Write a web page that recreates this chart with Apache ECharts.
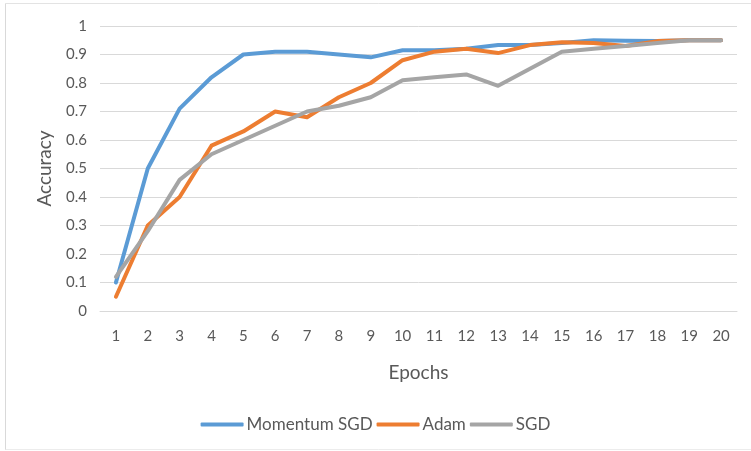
<!DOCTYPE html>
<html>
<head>
<meta charset="utf-8">
<script src="https://cdn.jsdelivr.net/npm/echarts@6/dist/echarts.min.js"></script>
<style>
  html, body { margin: 0; padding: 0; background: #ffffff; }
  #chart { width: 751px; height: 451px; }
</style>
</head>
<body>
<div id="chart"></div>
<script>
// Training accuracy per epoch for three optimisers
const epochs = ['1','2','3','4','5','6','7','8','9','10','11','12','13','14','15','16','17','18','19','20'];
const momentumSgd = [0.10, 0.50, 0.71, 0.82, 0.90, 0.91, 0.91, 0.90, 0.89, 0.915, 0.915, 0.92, 0.933, 0.933, 0.94, 0.95, 0.948, 0.947, 0.95, 0.95];
const adam        = [0.05, 0.30, 0.40, 0.58, 0.63, 0.70, 0.68, 0.75, 0.80, 0.88, 0.91, 0.92, 0.905, 0.933, 0.943, 0.94, 0.93, 0.947, 0.95, 0.95];
const sgd         = [0.12, 0.28, 0.46, 0.55, 0.60, 0.65, 0.70, 0.72, 0.75, 0.81, 0.82, 0.83, 0.79, 0.85, 0.91, 0.92, 0.93, 0.94, 0.95, 0.95];
const yTicks = [0, 0.1, 0.2, 0.3, 0.4, 0.5, 0.6, 0.7, 0.8, 0.9, 1];

const textColor = '#595959';
const font = 'Lato, "Open Sans", sans-serif';

function lineSeries(name, data, color) {
  return {
    name: name,
    type: 'line',
    data: data,
    showSymbol: false,
    symbol: 'none',
    lineStyle: { color: color, width: 4, cap: 'round', join: 'round' },
    itemStyle: { color: color },
    animation: false
  };
}

const chart = echarts.init(document.getElementById('chart'), null, { renderer: 'canvas' });
chart.setOption({
  backgroundColor: '#ffffff',
  animation: false,
  textStyle: { fontFamily: font, color: textColor },
  grid: { left: 100, right: 14, top: 26, bottom: 140, containLabel: false },
  xAxis: {
    type: 'category',
    data: epochs,
    boundaryGap: true,
    name: 'Epochs',
    nameLocation: 'middle',
    nameGap: 52,
    nameTextStyle: { fontSize: 19, color: textColor, fontFamily: font },
    axisLine: { show: true, lineStyle: { color: '#d9d9d9', width: 1 } },
    axisTick: { show: false },
    axisLabel: { color: textColor, fontSize: 15, margin: 18, fontFamily: font, interval: 0 }
  },
  yAxis: {
    type: 'value',
    min: 0,
    max: 1,
    interval: 0.1,
    name: 'Accuracy',
    nameLocation: 'middle',
    nameGap: 46,
    nameRotate: 90,
    nameTextStyle: { fontSize: 19, color: textColor, fontFamily: font },
    axisLine: { show: false },
    axisTick: { show: false },
    splitLine: { show: true, lineStyle: { color: '#d9d9d9', width: 1 } },
    axisLabel: {
      color: textColor, fontSize: 15, margin: 13, fontFamily: font,
      formatter: function (v) {
        const t = yTicks.find(function (k) { return Math.abs(k - v) < 1e-9; });
        return t === undefined ? '' : String(t);
      }
    }
  },
  legend: {
    top: 411,
    left: 'center',
    itemWidth: 43,
    itemHeight: 4,
    itemGap: 4,
    icon: 'roundRect',
    textStyle: { color: textColor, fontSize: 17, fontFamily: font, padding: [0, 0, 0, -2] },
    data: ['Momentum SGD', 'Adam', 'SGD']
  },
  graphic: [
    { type: 'line', shape: { x1: 5.5, y1: 3.5, x2: 751, y2: 3.5 }, style: { stroke: '#e3e3e3', lineWidth: 1 }, silent: true },
    { type: 'line', shape: { x1: 5.5, y1: 3.5, x2: 5.5, y2: 450 }, style: { stroke: '#d9d9d9', lineWidth: 1 }, silent: true },
    { type: 'line', shape: { x1: 5.5, y1: 449.5, x2: 751, y2: 449.5 }, style: { stroke: '#ececec', lineWidth: 1 }, silent: true }
  ],
  series: [
    lineSeries('Momentum SGD', momentumSgd, '#5b9bd5'),
    lineSeries('Adam', adam, '#ed7d31'),
    lineSeries('SGD', sgd, '#a5a5a5')
  ]
});
</script>
</body>
</html>
